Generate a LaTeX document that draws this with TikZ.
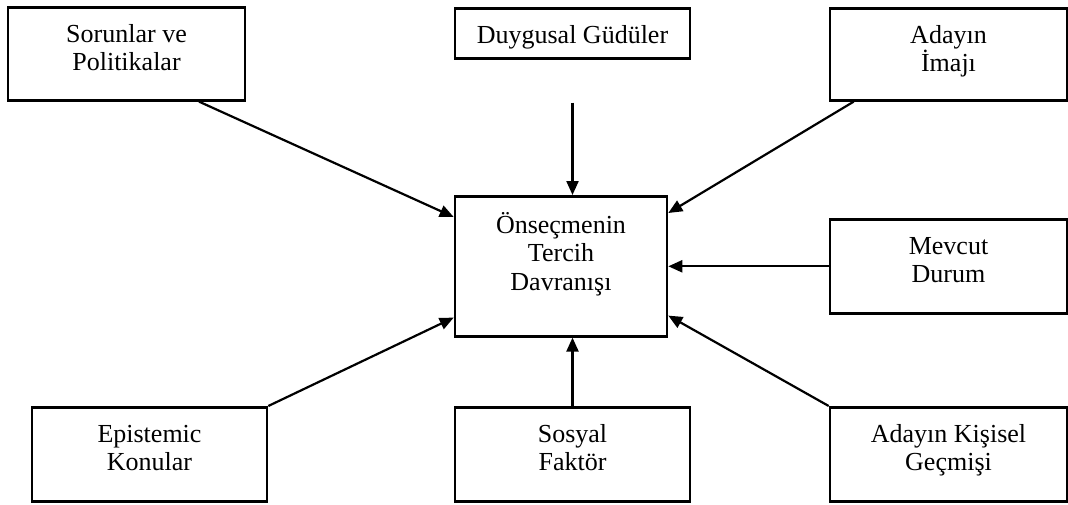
\documentclass[tikz,border=0pt]{standalone}
\usepackage{fontspec}
\setmainfont{Liberation Serif}
\usetikzlibrary{arrows.meta,calc}

\begin{document}
\begin{tikzpicture}[x=1pt,y=-1pt]
  \tikzset{box/.style={draw,line width=2.6pt,inner sep=0pt,align=center,anchor=north,
      font=\fontsize{26}{28.5}\selectfont,text height=63.5pt}}
  \tikzset{influence/.style={-{Triangle[length=14pt,width=12pt]},line width=2.2pt}}
  \useasboundingbox (0,0) rectangle (1068,504);

  \node[box,minimum width=237pt,text depth=29.5pt] (sorun) at (126.5,6) {Sorunlar ve\\Politikalar};
  \node[box,minimum width=235pt,text height=35pt,text depth=15pt] (duygu) at (572.5,7) {Duygusal Güdüler};
  \node[box,minimum width=237pt,text depth=28.5pt] (imaj) at (948.5,7) {Adayın\\İmajı};

  \node[box,minimum width=212pt,text height=94pt,text depth=46pt] (tercih) at (561,195) {Önseçmenin\\Tercih\\Davranışı};
  \node[box,minimum width=237pt,text depth=30.5pt] (mevcut) at (948.5,218) {Mevcut\\Durum};

  \node[box,minimum width=235pt,text depth=30.5pt] (epist) at (149.5,406) {Epistemic\\Konular};
  \node[box,minimum width=235pt,text depth=30.5pt] (sosyal) at (572.5,406) {Sosyal\\Faktör};
  \node[box,minimum width=237pt,text depth=30.5pt] (kisisel) at (948.5,406) {Adayın Kişisel\\Geçmişi};

  \coordinate (duyguend) at ([yshift=-43pt]duygu.south);

  \draw[influence] ([xshift=72.5pt]sorun.south) -- ([yshift=-22pt]tercih.north west);
  \draw[influence] (duyguend) -- (duyguend |- tercih.north);
  \draw[influence] ([xshift=25pt]imaj.south west) -- ([yshift=-18pt]tercih.north east);
  \draw[influence] (mevcut.west) -- (tercih.east);
  \draw[influence] (kisisel.north west) -- ([yshift=22pt]tercih.south east);
  \draw[influence] (sosyal.north) -- (sosyal.north |- tercih.south);
  \draw[influence] (epist.north east) -- ([yshift=20pt]tercih.south west);
\end{tikzpicture}
\end{document}
